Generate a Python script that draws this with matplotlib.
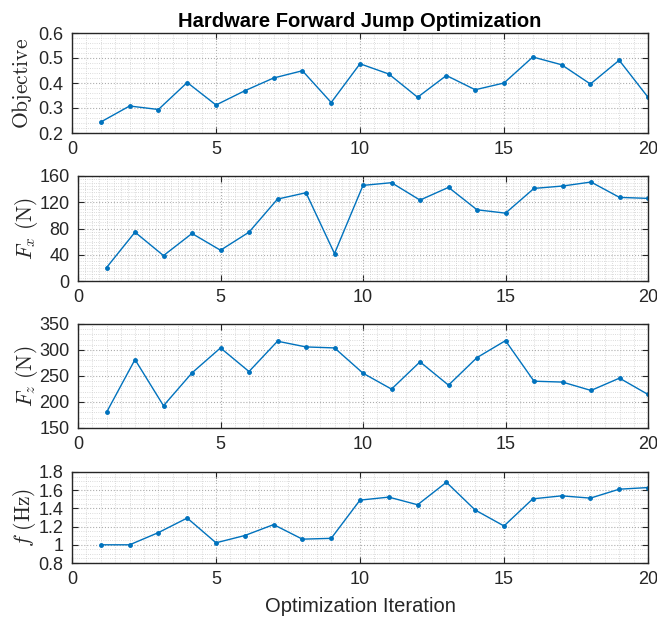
#!/usr/bin/env python3

import numpy as np
import matplotlib
matplotlib.use('Agg')
import matplotlib.pyplot as plt
from matplotlib.ticker import MultipleLocator, FormatStrFormatter


iteration = list(range(1, 21))

objective = [0.244, 0.308, 0.294, 0.402, 0.312, 0.369, 0.420, 0.449, 0.322, 0.477,
             0.436, 0.343, 0.430, 0.373, 0.400, 0.504, 0.473, 0.396, 0.491, 0.343]
fx = [20.4, 74.4, 38.7, 72.4, 46.9, 74.4, 124.8, 134.5, 41.8, 145.7,
      149.8, 123.3, 142.7, 108.5, 103.4, 141.1, 144.7, 150.8, 127.4, 125.9]
fz = [180.0, 281.6, 192.8, 256.0, 304.0, 258.6, 316.9, 305.9, 304.0, 255.4,
      224.8, 277.2, 232.4, 285.4, 318.0, 240.0, 238.3, 222.2, 245.9, 214.5]
freq = [1.0, 1.0, 1.134, 1.294, 1.022, 1.102, 1.222, 1.062, 1.071, 1.491,
        1.524, 1.440, 1.687, 1.382, 1.207, 1.505, 1.538, 1.513, 1.611, 1.629]

ylabels = [r'$\mathrm{Objective}$', r'$F_x\ \mathrm{(N)}$', r'$F_z\ \mathrm{(N)}$', r'$f\ \mathrm{(Hz)}$']
ylims = [(0.2, 0.6), (0, 160), (150, 350), (0.8, 1.8)]
ymajor = [0.1, 40, 50, 0.2]
yminor = [0.02, 5, 10, 0.05]
xminor = [0.5, 0.25, 0.5, 0.5]

# axes boxes in pixels: left, top, right, bottom
boxes = [(72, 33, 648, 133), (78, 176, 648, 281), (78, 324, 648, 428), (72, 472, 648, 563)]
# where the y label should sit (pixels from left edge of the figure)
label_x = [10, 13, 13, 11]

W, H = 657, 621
blue = '#0072BD'
dark = '#262626'

plt.rcParams['font.family'] = ['Liberation Sans', 'DejaVu Sans']
plt.rcParams['mathtext.fontset'] = 'cm'

fig = plt.figure(figsize=(W/100, H/100), dpi=100)

series = [objective, fx, fz, freq]
for i in range(4):
    l, t, r, b = boxes[i]
    ax = fig.add_axes([l/W, 1-b/H, (r-l)/W, (b-t)/H])
    ax.plot(iteration, series[i], color=blue, lw=1.0, marker='.', ms=5)
    ax.set_xlim(0, 20)
    ax.set_ylim(*ylims[i])
    ax.xaxis.set_major_locator(MultipleLocator(5))
    ax.xaxis.set_minor_locator(MultipleLocator(xminor[i]))
    ax.yaxis.set_major_locator(MultipleLocator(ymajor[i]))
    ax.yaxis.set_minor_locator(MultipleLocator(yminor[i]))
    ax.yaxis.set_major_formatter(FormatStrFormatter('%g'))
    ax.grid(which='major', ls=':', color='#999999', lw=0.8, alpha=0.8)
    ax.grid(which='minor', ls=':', color='#c4c4c4', lw=0.6, alpha=0.8)
    ax.tick_params(which='major', direction='in', top=True, right=True, length=4,
                   width=0.8, labelsize=13, colors=dark, pad=6)
    ax.tick_params(which='minor', length=0)
    for s in ax.spines.values():
        s.set_color(dark)
        s.set_linewidth(1.0)
    ax.set_ylabel(ylabels[i], fontsize=15.5, color=dark)
    ax.yaxis.set_label_coords((label_x[i] - l)/(r - l), 0.5)
    ax.yaxis.label.set_va('top')
    ax.set_axisbelow(True)
    if i == 0:
        ax.set_title('Hardware Forward Jump Optimization', fontsize=14.5, fontweight='bold', pad=4)
    if i == 3:
        ax.set_xlabel('Optimization Iteration', fontsize=14.5, color=dark, labelpad=6)

fig.savefig('out.png', dpi=100)
